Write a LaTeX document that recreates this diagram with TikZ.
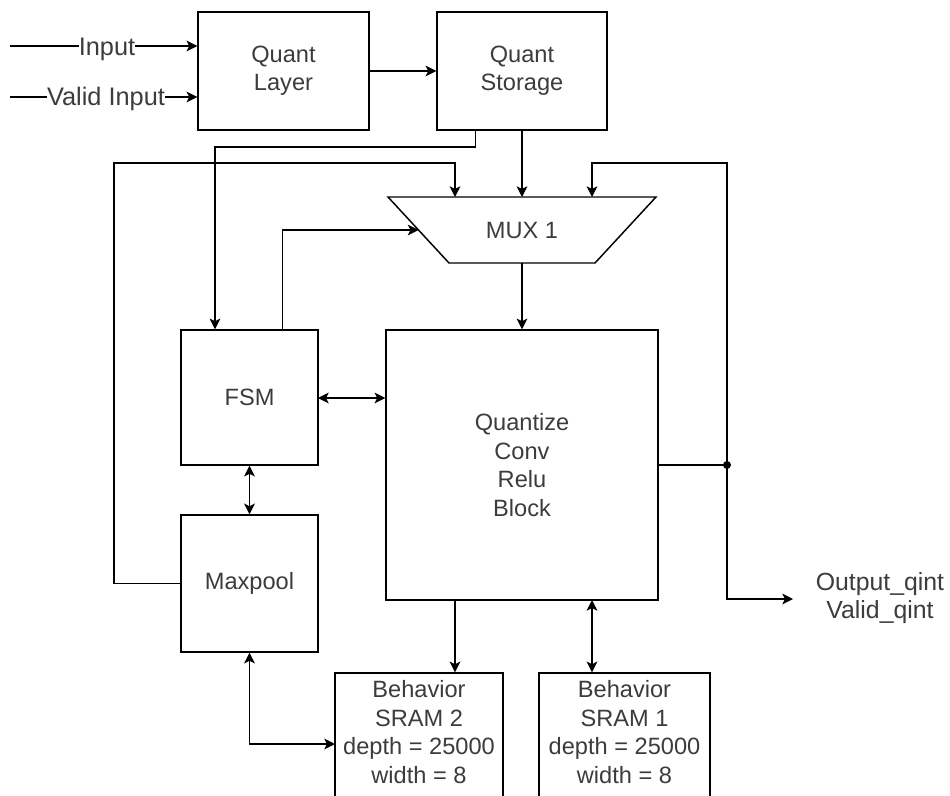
\documentclass[tikz,border=0pt]{standalone}
\usepackage{fontspec}
\setmainfont{Liberation Sans}
\usetikzlibrary{arrows.meta,calc}
\definecolor{txt}{RGB}{60,60,60}
\begin{document}
\begin{tikzpicture}[x=0.75pt,y=-0.75pt,
  box/.style={draw, line width=1.1pt, inner sep=0pt, align=center, text=txt, font=\fontsize{17.7}{21.3}\selectfont},
  lbl/.style={align=center, text=txt, font=\fontsize{17.7}{21.3}\selectfont, inner sep=1pt},
  elbl/.style={align=center, text=txt, font=\fontsize{19}{21.5}\selectfont, inner sep=1pt},
  wire/.style={line width=1.1pt},
  tip/.tip={Stealth[length=8pt,width=8pt,inset=2pt]},
  arr/.style={wire, -tip},
  darr/.style={wire, tip-tip}]
\clip (0,0) rectangle (950,796);
\fill[white] (0,0) rectangle (950,796);

% blocks
\node[box, minimum width=128.25pt, minimum height=88.5pt] (ql) at (283.5,71) {Quant\\Layer};
\node[box, minimum width=127.5pt, minimum height=88.5pt] (qs) at (522,71) {Quant\\Storage};
\node[box, minimum width=102.75pt, minimum height=101.25pt] (fsm) at (249.5,397.5) {FSM};
\node[box, minimum width=102.75pt, minimum height=102.75pt] (mp) at (249.5,583.5) {Maxpool};
\node[box, minimum width=204pt, minimum height=202.5pt] (qc) at (522,465) {Quantize\\Conv\\Relu\\Block};
\node[box, minimum width=126pt, minimum height=140.25pt] (s2) at (419,766.5) {};
\node[lbl, anchor=north] (s2t) at ($(s2.north)+(0,7)$) {Behavior\\SRAM 2\\depth = 25000\\width = 8};
\node[box, minimum width=128.25pt, minimum height=140.25pt] (s1) at (624.5,766.5) {};
\node[lbl, anchor=north] (s1t) at ($(s1.north)+(0,7)$) {Behavior\\SRAM 1\\depth = 25000\\width = 8};

% MUX
\coordinate (mtl) at (388,197);
\coordinate (mtr) at (656,197);
\coordinate (mbr) at (595,263);
\coordinate (mbl) at (449,263);
\draw[wire] (mtl) -- (mtr) -- (mbr) -- (mbl) -- cycle;
\node[lbl] (mux) at (522,230) {MUX 1};
\coordinate (mbc) at ($(mbl)!0.5!(mbr)$);
\coordinate (mlm) at ($(mtl)!0.5!(mbl)$);

% inputs
\coordinate (in1) at (10,46);
\coordinate (in2) at (10,97);
\draw[arr] (in1) -- (in1 -| ql.west);
\draw[arr] (in2) -- (in2 -| ql.west);
\node[elbl, fill=white, inner sep=0pt] (inl) at (107,49) {Input};
\node[elbl, fill=white, inner sep=0pt] (vil) at (106,99) {Valid Input};

\draw[arr] (ql.east) -- (qs.west);

% Quant Storage to FSM and MUX
\coordinate (qsb) at ($(qs.south west)+(39,0)$);
\coordinate (c1) at (215,147);
\draw[arr] (qsb) |- (c1) -- (c1 |- fsm.north);
\draw[arr] (qs.south) -- (qs.south |- mtl);

% Maxpool feedback to MUX
\coordinate (c2) at (114,163);
\coordinate (m1) at (455,197);
\draw[arr] (mp.west) -| (c2) -| (m1);

% FSM control to MUX
\coordinate (f1) at ($(fsm.north west)+(102,0)$);
\draw[arr] (f1) |- (mlm);

% MUX to block
\draw[arr] (mbc) -- (qc.north);

% output and feedback
\coordinate (dot) at (727,465);
\coordinate (c3) at (592,163);
\coordinate (m3) at (592,197);
\coordinate (oend) at (793,599);
\draw[wire] (qc.east) -- (dot);
\draw[arr] (dot) |- (c3) -- (m3);
\draw[arr] (dot) |- (oend);
\fill (dot) circle (3pt);
\node[elbl, font=\fontsize{18.6}{21.5}\selectfont] (out) at (880,598) {Output\_qint\\Valid\_qint};

% FSM links
\coordinate (h1) at (318,398);
\draw[darr] (h1) -- (h1 -| qc.west);
\draw[darr] (fsm.south) -- (mp.north);

% SRAM links
\coordinate (k1) at (335,744);
\draw[darr] (mp.south) |- (k1);
\coordinate (q1) at (455,600);
\draw[arr] (q1) -- (q1 |- s2.north);
\coordinate (q2) at (592,600);
\draw[darr] (q2) -- (q2 |- s1.north);
\end{tikzpicture}
\end{document}
